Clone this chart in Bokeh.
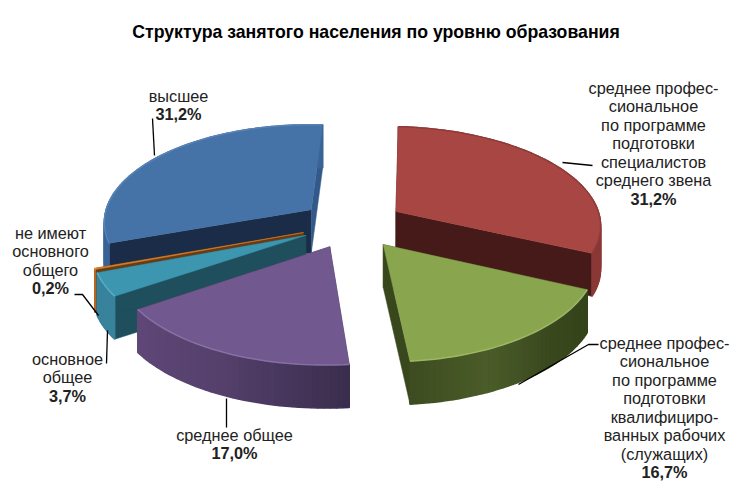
import numpy as np
from bokeh.plotting import figure
from bokeh.embed import file_html
from bokeh.resources import INLINE
from bokeh.core.properties import value

TITLE = "Структура занятого населения по уровню образования"
shares = [31.2, 16.7, 17.0, 3.7, 0.2, 31.2]
names = [
    ["среднее профес-", "сиональное", "по программе", "подготовки", "специалистов", "среднего звена"],
    ["среднее профес-", "сиональное", "по программе", "подготовки", "квалифициро-", "ванных рабочих", "(служащих)"],
    ["среднее общее"],
    ["основное", "общее"],
    ["не имеют", "основного", "общего"],
    ["высшее"],
]
# styles per slice
top_col = ["#a84644", "#89a54e", "#71588f", "#3d96b0", "#d9822b", "#4572a7"]
cut_end_col = ["#451a18", "#38481c", "#3c2f50", "#1f4e5c", "#6a3a12", "#1a2c48"]
cut_start_col = ["#451a18", "#38481c", "#3c2f50", "#1f4e5c", "#6a3a12", "#1a2c48"]
cut_end_col[5] = "#33588a"
wall_stops = [
    ["#8a3836", "#8a3836"],
    ["#35431b", "#3a481e", "#4a5c29", "#3d4c20"],
    ["#3a2e4e", "#55406c", "#5f4878"],
    ["#38829c", "#38829c"],
    ["#b8651d", "#b8651d"],
    ["#3a6496", "#3a6496"],
]
rim_col = ["#8c3a38", "#a8c070", "#9078ac", "#60b4cc", "#e89a4a", "#5c88bc"]
paint_order = [5, 0, 4, 3, 1, 2]
label_cx = [653, 664, 234, 67, 50, 178]
label_y0 = [87, 342, 434, 358, 232, 95]
line_h = 18.5
leaders = [
    ([562, 592, 592], [162, 165, 165]),
    ([598, 588, 518], [344, 344, 384]),
    ([226, 226], [398, 427]),
    ([107, 106], [330, 363]),
    ([74, 82, 98], [294, 294, 315]),
    ([152, 154], [118, 155]),
]

# camera constants of the 3-D pie
CX, CY = 352, 223.5
A, B, S, K, D, EXPL, T = 207, 98, 8, 0.12, 43, 0.25, 4.5


def proj(X, Y, Z=0.0):
    w = 1 + K * Y
    return CX + (A * X + S * Y) / w, CY - B * Y / w + T * X - D * Z


def hex2rgb(h):
    return np.array([int(h[i:i + 2], 16) for i in (1, 3, 5)], float)


def mix(stops, t):
    n = len(stops) - 1
    u = min(t * n, n - 1e-9)
    i = int(u)
    c = hex2rgb(stops[i]) * (1 - (u - i)) + hex2rgb(stops[i + 1]) * (u - i)
    return "#%02x%02x%02x" % tuple(int(round(v)) for v in c)


total = sum(shares)
edges = np.concatenate([[0], np.cumsum(shares)]) / total * 2 * np.pi

p = figure(width=745, height=487, x_range=(0, 745), y_range=(487, 0),
           output_backend="svg", toolbar_location=None, min_border=0,
           outline_line_color=None, background_fill_color="white")
p.axis.visible = False
p.grid.visible = False

for i in paint_order:
    t0, t1 = edges[i], edges[i + 1]
    mid = (t0 + t1) / 2
    ox, oy = EXPL * np.sin(mid), EXPL * np.cos(mid)
    th = np.linspace(t0, t1, max(4, int((t1 - t0) * 40)))
    X = ox + np.sin(th)
    Y = oy + np.cos(th)
    tx, ty = proj(X, Y, 0)
    bx, by = proj(X, Y, -1)
    ax_, ay_ = proj(ox, oy, 0)
    ab_x, ab_y = proj(ox, oy, -1)
    # cut faces: the start edge takes the dark shade, the end edge its own
    xs, ys = [], []
    for j in (0, -1):
        xs.append([ax_, tx[j], bx[j], ab_x])
        ys.append([ay_, ty[j], by[j], ab_y])
    cut_colors = [cut_start_col[i], cut_end_col[i]]
    p.patches(xs, ys, fill_color=cut_colors, line_color=cut_colors, line_width=0.5)
    # outer wall as shaded strips
    xs, ys, cs = [], [], []
    for j in range(len(th) - 1):
        xs.append([tx[j], tx[j + 1], bx[j + 1], bx[j]])
        ys.append([ty[j], ty[j + 1], by[j + 1], by[j]])
        cs.append(mix(wall_stops[i], j / (len(th) - 1)))
    p.patches(xs, ys, fill_color=cs, line_color=cs, line_width=1.5)
    # top face and rim highlight
    p.patch(np.r_[ax_, tx], np.r_[ay_, ty], fill_color=top_col[i],
            line_color=top_col[i], line_width=0.5)
    p.line(tx, ty, line_color=rim_col[i], line_width=1.5, line_alpha=0.8)

for lx, ly in leaders:
    p.line(lx, ly, line_color="black", line_width=1.3)

font = value("Liberation Sans")
p.text([375.5], [31], text=[TITLE], text_font=font, text_font_size="17.7px",
       text_font_style="bold", text_align="center", text_baseline="middle", text_color="black")
for i in range(len(shares)):
    lines = names[i]
    ys = [label_y0[i] + k * line_h for k in range(len(lines) + 1)]
    p.text([label_cx[i]] * len(lines), ys[:-1], text=lines, text_font=font, text_font_size="16.3px",
           text_align="center", text_baseline="middle", text_color="#222222")
    pct = f"{shares[i]:.1f}%".replace(".", ",")
    p.text([label_cx[i]], [ys[-1]], text=[pct], text_font=font, text_font_size="16.3px",
           text_font_style="bold", text_align="center", text_baseline="middle", text_color="#222222")

open("out.html", "w").write(file_html(p, INLINE))
